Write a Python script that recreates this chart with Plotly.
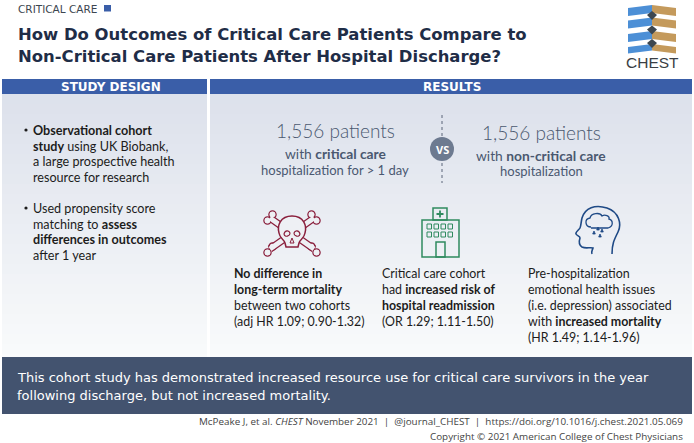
import plotly.graph_objects as go

SANS = "Lato"
LIGHT = "Lato Light, Lato"
OPEN = "Open Sans"
VERD = "DejaVu Sans"
NAVY = "#1f2d47"
BLUE = "#3a5ea8"
BAND = "#43536f"
GREY = "#4a5870"
MAROON = "#8a1f3c"
GREEN = "#2f8a5f"
ICONBLUE = "#1f4a86"

kicker = "CRITICAL CARE"
title_lines = ["How Do Outcomes of Critical Care Patients Compare to",
               "Non-Critical Care Patients After Hospital Discharge?"]
headers = ["STUDY DESIGN", "RESULTS"]
design_lines = [
    ("<b>Observational cohort</b>", 130), ("<b>study</b> using UK Biobank,", 146),
    ("a large prospective health", 161.5), ("resource for research", 177),
    ("Used propensity score", 208), ("matching to <b>assess</b>", 224),
    ("<b>differences in outcomes</b>", 239.5), ("after 1 year", 255)]
bullets_y = [130, 208]
compare_left = [("1,556 patients", 130, 19, LIGHT), ("with <b>critical care</b>", 153, 13.8, SANS),
                ("hospitalization for &gt; 1 day", 170, 13, SANS)]
compare_right = [("1,556 patients", 132, 19, LIGHT), ("with <b>non-critical care</b>", 155, 13.8, SANS),
                 ("hospitalization", 171, 13, SANS)]
col1 = ["<b>No difference in</b>", "<b>long-term mortality</b>", "between two cohorts", "(adj HR 1.09; 0.90-1.32)"]
col2 = ["Critical care cohort", "had <b>increased risk of</b>", "<b>hospital readmission</b>", "(OR 1.29; 1.11-1.50)"]
col3 = ["Pre-hospitalization", "emotional health issues", "(i.e. depression) associated",
        "with <b>increased mortality</b>", "(HR 1.49; 1.14-1.96)"]
col_rows = [273, 289, 305, 321, 337]
summary = ["This cohort study has demonstrated increased resource use for critical care survivors in the year",
           "following discharge, but not increased mortality."]
credit = ["McPeake J, et al. <i>CHEST</i> November 2021  |  @journal_CHEST  |  https://doi.org/10.1016/j.chest.2021.05.069",
          "Copyright © 2021 American College of Chest Physicians"]

shapes, notes = [], []

def txt(x, y, s, size=12, color=NAVY, font=SANS, anchor="left"):
    f = dict(size=size, color=color, family=font)
    notes.append(dict(x=x, y=y, text=s, showarrow=False, xanchor=anchor, yanchor="middle",
                      xref="x", yref="y", font=f, borderpad=0, align=anchor))

def rect(x0, y0, x1, y1, fill, line=None, w=1):
    shapes.append(dict(type="rect", x0=x0, y0=y0, x1=x1, y1=y1, fillcolor=fill,
                       line=dict(color=line or "rgba(0,0,0,0)", width=w if line else 0),
                       layer="below"))

def path(d, color=None, fill="rgba(0,0,0,0)", w=1.5):
    shapes.append(dict(type="path", path=d, fillcolor=fill,
                       line=dict(color=color or "rgba(0,0,0,0)", width=w if color else 0), layer="above"))

def circ(cx, cy, r, color=None, fill="rgba(0,0,0,0)", w=1.5):
    shapes.append(dict(type="circle", x0=cx-r, y0=cy-r, x1=cx+r, y1=cy+r, fillcolor=fill,
                       line=dict(color=color or "rgba(0,0,0,0)", width=w if color else 0), layer="above"))

# gradient panels
top, bot = (221, 226, 236), (250, 251, 252)
for (a, b) in [(2, 207), (210, 692)]:
    for i in range(27):
        t = i / 26
        c = tuple(int(top[k] + (bot[k] - top[k]) * t) for k in range(3))
        rect(a, 94 + i * 10, b, 94 + (i + 1) * 10 + 1, "rgb(%d,%d,%d)" % c)
    rect(a, 79, b, 94, BLUE)
rect(2, 357, 692, 414, BAND)
rect(104, 5, 111, 11.5, BLUE)

txt(17, 8.5, kicker, 10.5, "#3c4650", VERD)
txt(17, 34, "<b>%s</b>" % title_lines[0], 16.45, NAVY, VERD)
txt(17, 56, "<b>%s</b>" % title_lines[1], 16.45, NAVY, VERD)
txt(111, 87, "<b>%s</b>" % headers[0], 12, "white", VERD, "center")
txt(452, 87, "<b>%s</b>" % headers[1], 12, "white", VERD, "center")

for s, y in design_lines:
    txt(32, y, s, 12.6, "#1c1c1c")
for y in bullets_y:
    circ(26, y, 1.6, fill="#1c1c1c")

for s, y, sz, fam in compare_left:
    txt(335, y, s, sz, GREY, fam, "center")
for s, y, sz, fam in compare_right:
    txt(541, y, s, sz, GREY, fam, "center")
shapes.append(dict(type="line", x0=442, x1=442, y0=115, y1=183,
                   line=dict(color="#5a6578", width=1, dash="dot")))
circ(442, 149, 12, fill="#6d7a90")
txt(442, 149, "<b>VS</b>", 11, "white", font=OPEN, anchor="center")

for x, col in [(233, col1), (381, col2), (527, col3)]:
    for s, y in zip(col, col_rows):
        txt(x, y, s, 12.4, "#1c1c1c")

txt(16, 377, summary[0], 13, "white", VERD)
txt(16, 395, summary[1], 13, "white", VERD)
txt(684, 421, credit[0], 9.85, "#444", font=OPEN, anchor="right")
txt(684, 436, credit[1], 9.85, "#444", font=OPEN, anchor="right")

# skull & crossbones
bones = [((270, 218), (314, 249)), ((314, 218), (270, 249))]
BG = "#eef0f4"
for (p, q) in bones:
    sx = 1 if p[0] < q[0] else -1
    for (cx, cy), sy in [(p, 1), (q, -1)]:
        circ(cx - sx * 2.5, cy + sy * 2.5, 3.6, MAROON, w=1.3)
        circ(cx + sx * 2.5, cy - sy * 3.5, 3.6, MAROON, w=1.3)
    shapes.append(dict(type="line", x0=p[0], y0=p[1], x1=q[0], y1=q[1],
                       line=dict(color=MAROON, width=7.5), layer="above"))
    shapes.append(dict(type="line", x0=p[0], y0=p[1], x1=q[0], y1=q[1],
                       line=dict(color=BG, width=5), layer="above"))
for (p, q) in bones:
    sx = 1 if p[0] < q[0] else -1
    for (cx, cy), sy in [(p, 1), (q, -1)]:
        circ(cx - sx * 2.5, cy + sy * 2.5, 2.7, fill=BG)
        circ(cx + sx * 2.5, cy - sy * 3.5, 2.7, fill=BG)
path("M 292 216 C 280 216 277 226 279 233 C 280 239 284 239 285 243 L 286 247 L 298 247 "
     "L 299 243 C 300 239 304 239 305 233 C 307 226 304 216 292 216 Z", MAROON, BG, 1.5)
path("M 284 234 C 285 230 289 230 290 233 C 290 236 285 238 284 234 Z", MAROON, w=1.1)
path("M 300 234 C 299 230 295 230 294 233 C 294 236 299 238 300 234 Z", MAROON, w=1.1)
path("M 292 238 L 290 243 L 294 243 Z", MAROON, w=1)

# hospital
for r in [(422, 220, 459, 257), (433, 208, 447, 220), (436, 242, 445, 257)]:
    shapes.append(dict(type="rect", x0=r[0], y0=r[1], x1=r[2], y1=r[3], fillcolor="rgba(0,0,0,0)",
                       line=dict(color=GREEN, width=1.5), layer="above"))
path("M 440 210.5 L 440 217.5 M 436.5 214 L 443.5 214", GREEN, w=1.8)
for row in (224, 232):
    for cx in (427, 434, 441, 448):
        shapes.append(dict(type="rect", x0=cx, y0=row, x1=cx+4.5, y1=row+5, fillcolor="rgba(0,0,0,0)",
                           line=dict(color=GREEN, width=1), layer="above"))

# head
path("M 612 254 C 612 244 614 240 618 232 C 622 224 619 212 607 208 C 595 204 585 208 582 218 "
     "C 581 222 581 226 580 228 C 579 230 575 232 576 234 C 577 236 580 236 580 238 "
     "C 579 241 579 245 582 247 C 586 249 590 247 593 248 C 592 251 591 252 592 254", ICONBLUE, w=1.6)
path("M 591 227 C 585 227 584 219 590 218 C 591 213 600 212 602 216 C 605 214 610 216 609 219 "
     "C 613 220 614 226 608 228 L 591 228", ICONBLUE, w=1.3)
for dx, dy in [(598, 227), (602, 229), (594, 231), (600, 234)]:
    path("M %g %g L %g %g L %g %g Z" % (dx, dy, dx-1.3, dy+3, dx+1.3, dy+3), ICONBLUE, ICONBLUE, 0.8)

# logo
LB, LT, LD = "#4c8fd6", "#c49a5c", "#3d4750"
for y, h in [(5, 8), (17.5, 8), (31, 8), (44, 6.5)]:
    path("M 628 %g L 652 %g L 652 %g L 628 %g Z" % (y+3, y, y+h, y+h+3), fill=LB)
    path("M 652 %g L 676 %g L 676 %g L 652 %g Z" % (y, y+3, y+h+3, y+h), fill=LT)
for y in (15, 29.5, 43):
    path("M 652 %g L 657 %g L 652 %g L 647 %g Z" % (y-4, y, y+5, y), fill=LD)
txt(652, 62, "CHEST", 15.5, "#3a3f45", "Liberation Sans", "center")

fig = go.Figure()
fig.update_layout(width=694, height=443, margin=dict(l=0, r=0, t=0, b=0), showlegend=False,
                  paper_bgcolor="white", plot_bgcolor="white", shapes=shapes, annotations=notes,
                  xaxis=dict(range=[0, 694], visible=False, fixedrange=True),
                  yaxis=dict(range=[443, 0], visible=False, fixedrange=True))
fig.write_html("out.html", config=dict(displayModeBar=False),
               post_script="document.body.style.margin='0';")
